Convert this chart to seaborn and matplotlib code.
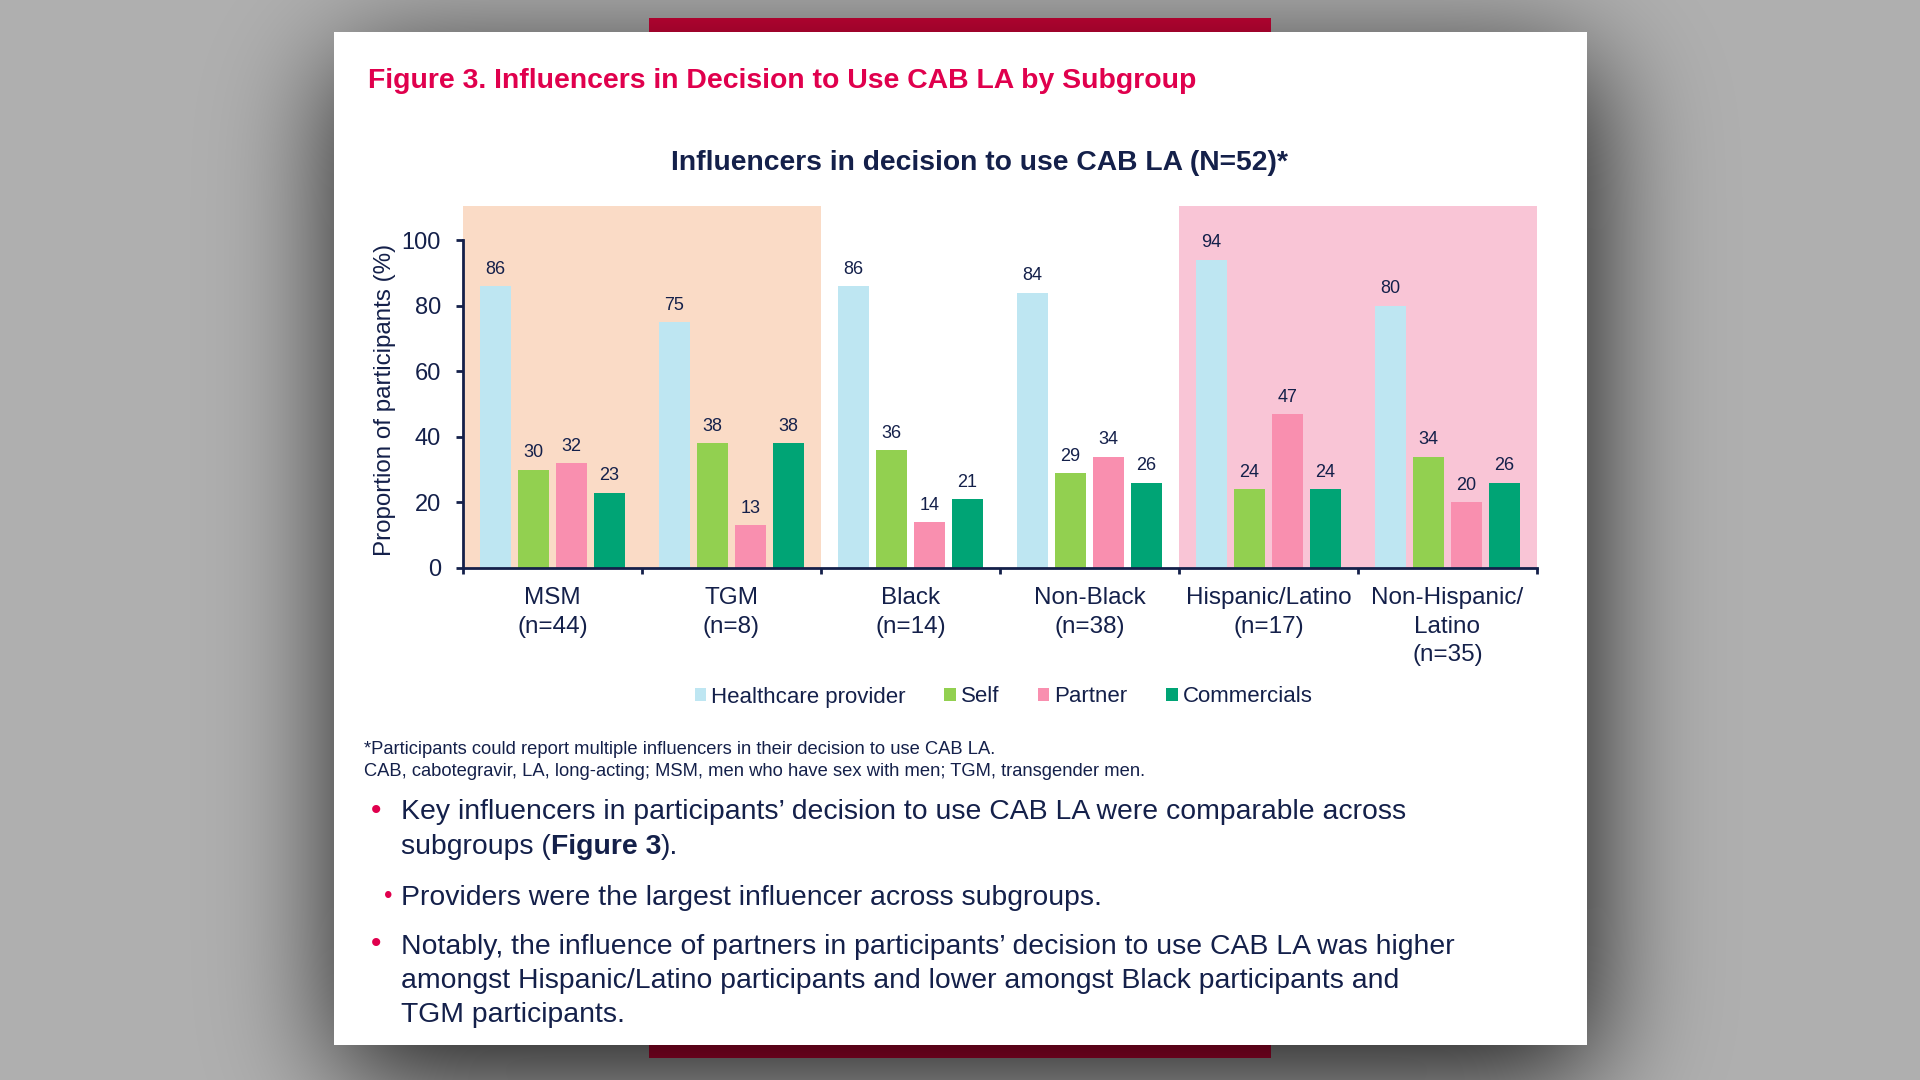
import math
import numpy as np
import pandas as pd
import matplotlib
matplotlib.use("Agg")
import matplotlib.pyplot as plt
from matplotlib.text import Annotation
import seaborn as sns

# ---------------- data ----------------
groups = ["MSM\n(n=44)", "TGM\n(n=8)", "Black\n(n=14)", "Non-Black\n(n=38)",
          "Hispanic/Latino\n(n=17)", "Non-Hispanic/\nLatino\n(n=35)"]
influencers = ["Healthcare provider", "Self", "Partner", "Commercials"]
healthcare = [86, 75, 86, 84, 94, 80]
self_vals = [30, 38, 36, 29, 24, 34]
partner = [32, 13, 14, 34, 47, 20]
commercials = [23, 38, 21, 26, 24, 26]
yticks = [0, 20, 40, 60, 80, 100]
colors = ["#BEE6F2", "#92D050", "#F98FAF", "#00A475"]

df = pd.DataFrame({
    "group": groups * 4,
    "influencer": sum([[n] * len(groups) for n in influencers], []),
    "value": healthcare + self_vals + partner + commercials,
})

NAVY = "#14204A"
CRIMSON = "#E0004D"

sns.set_theme(style="white")
plt.rcParams["font.family"] = ["Liberation Sans", "DejaVu Sans"]

W, H = 1920, 1080
fig = plt.figure(figsize=(19.2, 10.8), dpi=100)

# ---------------- backdrop (grey page, red slide, shadow, white card) ----------------
erf = np.vectorize(math.erf)
xs = np.arange(W) + 0.5
ys = np.arange(H) + 0.5
img = np.ones((H, W, 3)) * 0.69
# red slide behind card
rx0, rx1, ry0, ry1 = 649, 1271, 18, 1058
img[ry0:ry1, rx0:rx1] = np.array([215, 5, 58]) / 255
# soft shadow
cx0, cx1, cy0, cy1 = 334, 1587, 32, 1045
s = 60 * math.sqrt(2)
dx, dy = 6, 30
fx = 0.5 * (erf((xs - (cx0 + dx)) / s) - erf((xs - (cx1 + dx)) / s))
fy = 0.5 * (erf((ys - (cy0 + dy)) / s) - erf((ys - (cy1 + dy)) / s))
shadow = np.outer(fy, fx)
img = img * (1 - 0.86 * shadow)[:, :, None]
img[cy0:cy1, cx0:cx1] = 1.0
bg = fig.add_axes([0, 0, 1, 1], zorder=-10)
bg.imshow(img, extent=(0, W, H, 0), aspect="auto", interpolation="bilinear")
bg.set_axis_off()


def fx_(x):
    return x / W


def fy_(y):
    return 1 - y / H


# ---------------- chart ----------------
ax_l, ax_r, ax_t, ax_b = 463, 1537, 206, 568
ax = fig.add_axes([ax_l / W, 1 - ax_b / H, (ax_r - ax_l) / W, (ax_b - ax_t) / H])
ax.set_facecolor("none")

sns.barplot(data=df, x="group", y="value", hue="influencer", order=groups,
            hue_order=influencers, palette=colors, width=0.85, gap=0.18,
            saturation=1, errorbar=None, linewidth=0, ax=ax, zorder=2)

handles, labels = ax.get_legend_handles_labels()
if ax.get_legend() is not None:
    ax.get_legend().remove()

ax.set_xlim(-0.5, len(groups) - 0.5)
ax.set_ylim(0, 110.4)
ax.axvspan(-0.5, 1.5, color="#FADBC6", lw=0, zorder=0)
ax.axvspan(3.5, 5.5, color="#F9C5D6", lw=0, zorder=0)

for c in ax.containers:
    ax.bar_label(c, fmt="%d", padding=6, fontsize=13, color=NAVY)

for side in ["top", "right"]:
    ax.spines[side].set_visible(False)
for side in ["left", "bottom"]:
    ax.spines[side].set_color(NAVY)
    ax.spines[side].set_linewidth(2)
ax.spines["left"].set_bounds(0, 100)

ax.set_yticks(yticks)
ax.set_yticklabels([str(v) for v in yticks])
ax.tick_params(axis="y", which="major", direction="out", length=5, width=2,
               color=NAVY, labelcolor=NAVY, labelsize=17, pad=11, left=True)
ax.set_xticks(range(len(groups)))
ax.set_xticklabels(groups, linespacing=1.37)
ax.set_xticks(np.arange(-0.5, len(groups)), minor=True)
ax.tick_params(axis="x", which="major", length=0, labelcolor=NAVY,
               labelsize=17.5, pad=14)
ax.tick_params(axis="x", which="minor", direction="out", length=4.5, width=2,
               color=NAVY, bottom=True)
ax.set_xlabel("")
ax.set_ylabel("Proportion of participants (%)", fontsize=17.4, color=NAVY)
ax.yaxis.set_label_coords((396 - ax_l) / (ax_r - ax_l), (ax_b - 400) / (ax_b - ax_t))
ax.grid(False)

fig.legend(handles, labels, loc="center", bbox_to_anchor=(fx_(1003.5), fy_(697)),
           ncol=4, frameon=False, fontsize=16, handlelength=0.52, handleheight=0.57,
           handletextpad=0.23, columnspacing=1.73, labelcolor=NAVY)

# ---------------- titles and text ----------------
fig.text(fx_(368), fy_(80.5), "Figure 3. Influencers in Decision to Use CAB LA by Subgroup",
         color=CRIMSON, fontsize=20.4, fontweight="bold", ha="left", va="center")
fig.text(fx_(980), fy_(162.5), "Influencers in decision to use CAB LA (N=52)*",
         color=NAVY, fontsize=20.3, fontweight="bold", ha="center", va="center")

fig.text(fx_(364), fy_(750), "*Participants could report multiple influencers in their decision to use CAB LA.",
         color=NAVY, fontsize=13.2, ha="left", va="center")
fig.text(fx_(364), fy_(772), "CAB, cabotegravir, LA, long-acting; MSM, men who have sex with men; TGM, transgender men.",
         color=NAVY, fontsize=13.2, ha="left", va="center")

BFS = 20.4
fig.text(fx_(376), fy_(811), "•", color=CRIMSON, fontsize=BFS * 1.05, ha="center", va="center")
fig.text(fx_(401), fy_(812), "Key influencers in participants’ decision to use CAB LA were comparable across",
         color=NAVY, fontsize=BFS, ha="left", va="center")
t1 = fig.text(fx_(401), fy_(847), "subgroups (", color=NAVY, fontsize=BFS, ha="left", va="center")
t2 = Annotation("Figure 3", xy=(1, 0), xycoords=t1, ha="left", va="bottom",
                color=NAVY, fontsize=BFS, fontweight="bold", annotation_clip=False)
fig.add_artist(t2)
t3 = Annotation(").", xy=(1, 0), xycoords=t2, ha="left", va="bottom",
                color=NAVY, fontsize=BFS, annotation_clip=False)
fig.add_artist(t3)

fig.text(fx_(388), fy_(897), "•", color=CRIMSON, fontsize=BFS * 0.85, ha="center", va="center")
fig.text(fx_(401), fy_(898), "Providers were the largest influencer across subgroups.",
         color=NAVY, fontsize=BFS, ha="left", va="center")

fig.text(fx_(376), fy_(944), "•", color=CRIMSON, fontsize=BFS * 1.05, ha="center", va="center")
for i, line in enumerate([
        "Notably, the influence of partners in participants’ decision to use CAB LA was higher",
        "amongst Hispanic/Latino participants and lower amongst Black participants and",
        "TGM participants."]):
    fig.text(fx_(401), fy_(947 + 34 * i), line, color=NAVY, fontsize=BFS, ha="left", va="center")

fig.savefig("out.png", dpi=100)
